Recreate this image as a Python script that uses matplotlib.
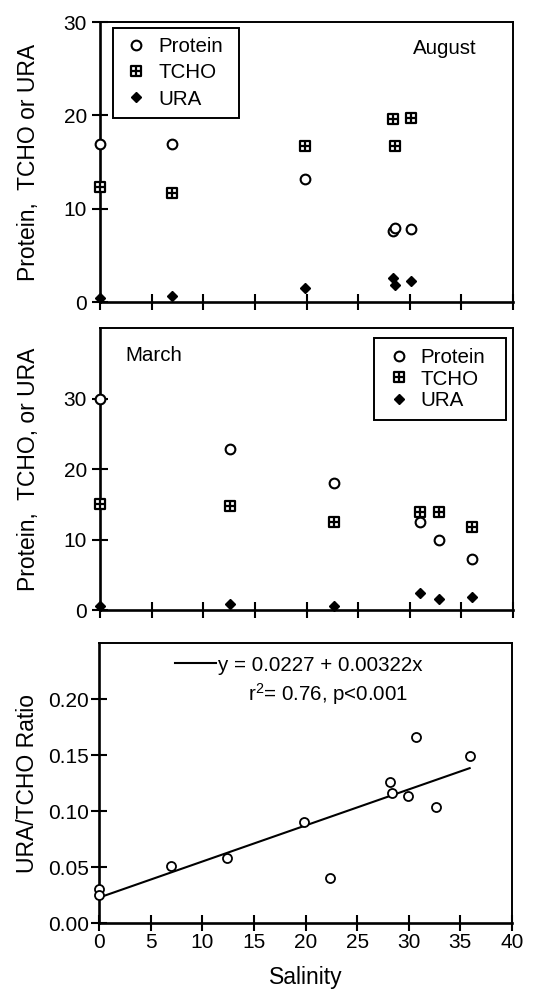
import matplotlib
matplotlib.use('Agg')
import matplotlib.pyplot as plt
from matplotlib.path import Path
import numpy as np

plt.rcParams['font.family'] = ['Liberation Sans', 'DejaVu Sans']
plt.rcParams['mathtext.default'] = 'regular'

# August: salinity and concentrations
aug_salinity = [0.0, 7.0, 19.9, 28.35, 28.55, 30.1]
aug_protein = [16.9, 16.9, 13.2, 7.6, 7.9, 7.8]
aug_tcho = [12.3, 11.7, 16.7, 19.6, 16.7, 19.75]
aug_ura = [0.4, 0.6, 1.5, 2.6, 1.8, 2.3]

# March
mar_salinity = [0.0, 12.6, 22.7, 31.0, 32.8, 36.0]
mar_protein = [29.9, 22.9, 18.0, 12.5, 9.9, 7.3]
mar_tcho = [15.1, 14.7, 12.5, 13.9, 13.9, 11.8]
mar_ura = [0.6, 0.9, 0.6, 2.4, 1.5, 1.8]

# URA/TCHO ratio vs salinity (both months)
ratio_salinity = [0.0, 0.0, 7.0, 12.4, 19.9, 22.4, 28.2, 28.4, 29.9, 30.7, 32.6, 35.9]
ratio_values = [0.030, 0.025, 0.051, 0.058, 0.090, 0.040, 0.126, 0.116, 0.113, 0.166, 0.104, 0.149]
fit_intercept = 0.0227
fit_slope = 0.00322

# square with a cross inside, used for TCHO
tcho_marker = Path(
    [(-1, -1), (1, -1), (1, 1), (-1, 1), (-1, -1), (0, -1), (0, 1), (-1, 0), (1, 0)],
    [Path.MOVETO, Path.LINETO, Path.LINETO, Path.LINETO, Path.CLOSEPOLY,
     Path.MOVETO, Path.LINETO, Path.MOVETO, Path.LINETO])

TICK_FS = 15
TEXT_FS = 14.8
LABEL_FS = 16.5

fig = plt.figure(figsize=(5.34, 9.89), dpi=100)
left, width = 0.1873, 0.7734
ax1 = fig.add_axes([left, 0.6946, width, 0.2831])
ax2 = fig.add_axes([left, 0.3832, width, 0.2851])
ax3 = fig.add_axes([0.1854, 0.0667, width, 0.2831])


def style(ax, ypad):
    for s in ['top', 'right']:
        ax.spines[s].set_linewidth(1.4)
    for s in ['left', 'bottom']:
        ax.spines[s].set_linewidth(1.9)
    ax.tick_params(direction='inout', length=11, width=1.5, labelsize=TICK_FS)
    ax.tick_params(axis='y', pad=ypad)
    ax.tick_params(axis='x', pad=2)
    ax.set_xlim(0, 40)
    ax.set_xticks(np.arange(0, 41, 5))


def scatter_three(ax, sal, prot, tcho, ura):
    ax.plot(sal, prot, 'o', ms=7, mfc='white', mec='black', mew=1.5, ls='none',
            label='Protein', clip_on=False, zorder=3)
    ax.plot(sal, tcho, marker=tcho_marker, ms=7, mfc='white', mec='black', mew=1.6,
            ls='none', label='TCHO', clip_on=False, zorder=3)
    ax.plot(sal, ura, 'D', ms=5, mfc='black', mec='black', mew=1, ls='none',
            label='URA', clip_on=False, zorder=3)


def boxed_legend(ax, x0, top, w, labelspacing, borderpad):
    leg = ax.legend(loc='upper left', bbox_to_anchor=(x0, 0, w, top), mode='expand',
                    borderaxespad=0, fancybox=False, edgecolor='black', framealpha=1,
                    fontsize=TEXT_FS, handlelength=1.4, handletextpad=0.35,
                    labelspacing=labelspacing, borderpad=borderpad)
    leg.get_frame().set_linewidth(1.4)
    return leg


# August panel
scatter_three(ax1, aug_salinity, aug_protein, aug_tcho, aug_ura)
style(ax1, 4.0)
ax1.set_ylim(0, 30)
ax1.set_yticks([0, 10, 20, 30])
ax1.set_xticklabels([])
ax1.set_ylabel('Protein,  TCHO or URA', fontsize=LABEL_FS)
ax1.yaxis.set_label_coords(-0.145, 0.5)
ax1.text(0.758, 0.907, 'August', transform=ax1.transAxes, fontsize=TEXT_FS, va='center')
boxed_legend(ax1, 0.031, 0.979, 0.305, 0.35, 0.45)

# March panel
scatter_three(ax2, mar_salinity, mar_protein, mar_tcho, mar_ura)
style(ax2, 4.0)
ax2.set_ylim(0, 40)
ax2.set_yticks([0, 10, 20, 30])
ax2.set_xticklabels([])
ax2.set_ylabel('Protein,  TCHO, or URA', fontsize=LABEL_FS)
ax2.yaxis.set_label_coords(-0.145, 0.5)
ax2.text(0.061, 0.904, 'March', transform=ax2.transAxes, fontsize=TEXT_FS, va='center')
boxed_legend(ax2, 0.663, 0.965, 0.320, 0.12, 0.5)

# Ratio panel
ax3.plot(ratio_salinity, ratio_values, 'o', ms=6.5, mfc='white', mec='black', mew=1.3,
         ls='none', clip_on=False, zorder=3)
fit_x = np.array([min(ratio_salinity), max(ratio_salinity)])
fit_line, = ax3.plot(fit_x, fit_intercept + fit_slope * fit_x, color='black', lw=1.5)
style(ax3, 1.5)
ax3.set_ylim(0, 0.25)
ax3.set_yticks([0, 0.05, 0.10, 0.15, 0.20])
ax3.set_yticklabels(['0.00', '0.05', '0.10', '0.15', '0.20'])
ax3.set_xlabel('Salinity', fontsize=LABEL_FS, labelpad=10)
ax3.set_ylabel('URA/TCHO Ratio', fontsize=LABEL_FS)
ax3.yaxis.set_label_coords(-0.145, 0.5)
ax3.legend([fit_line], ['y = %.4f + %.5fx' % (fit_intercept, fit_slope)],
           loc='upper left', bbox_to_anchor=(0.184, 0.955), borderaxespad=0, borderpad=0,
           frameon=False, fontsize=TEXT_FS, handlelength=2.0, handletextpad=0.1)
ax3.text(0.361, 0.818, 'r$^2$= 0.76, p<0.001', transform=ax3.transAxes,
         fontsize=TEXT_FS, va='center')

fig.savefig('out.png', dpi=100)
